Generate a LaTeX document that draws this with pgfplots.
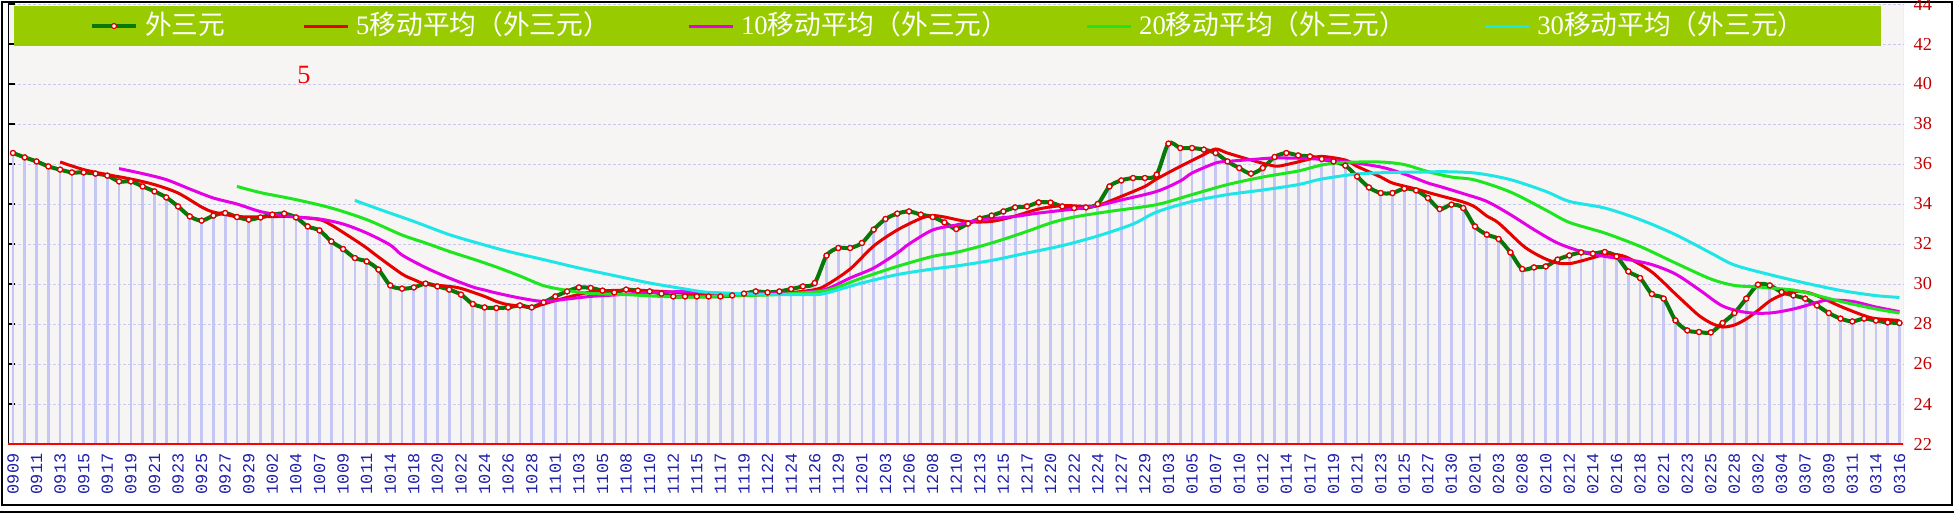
\documentclass[border=0pt]{standalone}
\usepackage{fontspec}
\setmainfont{Liberation Serif}
\newfontfamily\monofont{Liberation Mono}
\newfontfamily\cjk{Noto Sans CJK SC}
\usepackage{pgfplots}
\usepackage{pgfplotstable}
\pgfplotsset{compat=1.18}
\definecolor{paper}{HTML}{F7F5F3}
\definecolor{barblue}{HTML}{C6C6F4}
\definecolor{gridc}{HTML}{C8C8F0}
\definecolor{maingreen}{HTML}{087808}
\definecolor{markred}{HTML}{E00000}
\definecolor{mafive}{HTML}{E60000}
\definecolor{maten}{HTML}{E600E6}
\definecolor{matwenty}{HTML}{1EE61E}
\definecolor{mathirty}{HTML}{1EE6E6}
\definecolor{legendgreen}{HTML}{99CC00}
\definecolor{ylabred}{HTML}{C00000}
\definecolor{xlabblue}{HTML}{2020AA}

% 外三元, one value per day
\pgfplotstableread{
x y
0 36.55
1 36.33
2 36.13
3 35.88
4 35.72
5 35.58
6 35.58
7 35.52
8 35.42
9 35.13
10 35.13
11 34.88
12 34.63
13 34.33
14 33.88
15 33.38
16 33.17
17 33.42
18 33.55
19 33.35
20 33.22
21 33.33
22 33.47
23 33.52
24 33.33
25 32.88
26 32.68
27 32.13
28 31.75
29 31.30
30 31.13
31 30.72
32 29.93
33 29.77
34 29.83
35 30.02
36 29.88
37 29.72
38 29.47
39 29.00
40 28.83
41 28.80
42 28.83
43 28.93
44 28.83
45 29.08
46 29.38
47 29.63
48 29.83
49 29.80
50 29.67
51 29.58
52 29.72
53 29.67
54 29.63
55 29.52
56 29.38
57 29.38
58 29.38
59 29.38
60 29.38
61 29.43
62 29.52
63 29.63
64 29.58
65 29.63
66 29.75
67 29.88
68 30.05
69 31.42
70 31.80
71 31.80
72 32.05
73 32.72
74 33.25
75 33.52
76 33.63
77 33.47
78 33.35
79 33.08
80 32.75
81 33.02
82 33.27
83 33.42
84 33.63
85 33.83
86 33.88
87 34.08
88 34.07
89 33.88
90 33.80
91 33.83
92 34.00
93 34.88
94 35.18
95 35.30
96 35.30
97 35.47
98 37.02
99 36.80
100 36.80
101 36.72
102 36.55
103 36.13
104 35.80
105 35.52
106 35.80
107 36.35
108 36.55
109 36.43
110 36.38
111 36.25
112 36.13
113 35.92
114 35.38
115 34.83
116 34.55
117 34.55
118 34.77
119 34.68
120 34.30
121 33.75
122 33.97
123 33.80
124 32.88
125 32.47
126 32.25
127 31.58
128 30.75
129 30.83
130 30.88
131 31.22
132 31.43
133 31.58
134 31.52
135 31.60
136 31.38
137 30.63
138 30.30
139 29.50
140 29.27
141 28.18
142 27.68
143 27.60
144 27.58
145 28.05
146 28.55
147 29.27
148 29.97
149 29.93
150 29.60
151 29.43
152 29.27
153 28.93
154 28.55
155 28.27
156 28.13
157 28.27
158 28.17
159 28.08
160 28.05
}\mainline

% 5-day average
\pgfplotstableread{
x y
4 36.10
6 35.72
8 35.47
10 35.25
12 34.97
14 34.55
16 33.85
17 33.60
19 33.38
21 33.36
23 33.38
24 33.35
26 33.22
27 32.95
29 32.20
30 31.80
31 31.35
33 30.50
34 30.22
35 30.00
37 29.88
38 29.78
40 29.38
41 29.13
42 28.97
44 28.85
45 29.00
47 29.33
49 29.60
51 29.68
53 29.68
55 29.63
57 29.55
59 29.47
61 29.43
64 29.48
66 29.57
68 29.72
69 29.95
71 30.75
73 31.90
75 32.70
77 33.28
78 33.42
79 33.35
81 33.12
83 33.13
85 33.40
87 33.75
89 33.92
91 33.88
92 33.92
94 34.38
96 34.88
97 35.25
99 35.88
101 36.47
102 36.75
103 36.55
105 36.20
107 35.90
108 35.97
110 36.25
111 36.38
113 36.20
114 35.88
116 35.35
117 35.05
119 34.75
120 34.58
121 34.42
123 34.10
124 33.85
125 33.40
126 33.05
128 31.95
129 31.55
130 31.25
131 31.05
132 31.02
133 31.15
135 31.47
136 31.47
137 31.30
139 30.60
141 29.50
142 28.95
143 28.42
144 28.05
145 27.85
146 27.95
147 28.25
148 28.68
149 29.15
150 29.45
151 29.62
152 29.60
153 29.42
155 28.88
157 28.42
158 28.27
160 28.18
}\mafivetab

% 10-day average
\pgfplotstableread{
x y
9 35.77
11 35.52
13 35.22
15 34.75
17 34.30
19 34.00
21 33.62
23 33.42
24 33.35
26 33.25
28 33.00
30 32.55
32 31.95
33 31.45
35 30.82
37 30.30
39 29.85
40 29.70
41 29.55
43 29.30
45 29.13
47 29.25
49 29.38
51 29.45
54 29.57
57 29.62
59 29.56
62 29.50
65 29.52
67 29.58
69 29.75
71 30.30
73 30.80
75 31.55
76 32.00
78 32.70
80 32.95
82 33.20
85 33.38
87 33.55
90 33.75
92 33.92
94 34.20
97 34.63
99 35.15
100 35.55
102 36.05
103 36.13
105 36.22
107 36.30
110 36.27
113 36.12
116 35.85
118 35.50
120 35.05
121 34.88
123 34.52
125 34.13
127 33.47
129 32.72
131 32.05
133 31.63
135 31.38
137 31.22
139 30.97
141 30.50
143 29.72
145 28.90
147 28.58
149 28.55
151 28.75
153 29.08
154 29.20
156 29.13
158 28.85
160 28.62
}\matentab

% 20-day average
\pgfplotstableread{
x y
19 34.88
21 34.57
24 34.22
27 33.80
30 33.22
33 32.45
35 32.05
37 31.63
39 31.25
41 30.85
43 30.40
45 29.92
47 29.68
49 29.53
52 29.47
55 29.38
58 29.35
61 29.42
64 29.45
66 29.52
69 29.68
72 30.30
75 30.88
78 31.38
80 31.58
83 32.05
86 32.63
88 33.05
90 33.35
93 33.63
97 33.97
100 34.47
103 34.97
106 35.35
109 35.65
111 35.95
113 36.08
116 36.10
118 35.97
120 35.62
122 35.35
124 35.20
127 34.60
130 33.70
132 33.08
135 32.55
138 31.88
141 31.05
144 30.25
146 29.93
148 29.85
151 29.70
152 29.58
155 29.13
158 28.75
160 28.55
}\matwentytab

% 30-day average
\pgfplotstableread{
x y
29 34.18
31 33.75
34 33.13
37 32.47
40 31.95
42 31.63
45 31.22
48 30.80
51 30.42
54 30.05
57 29.75
59 29.58
62 29.52
65 29.47
68 29.47
69 29.55
72 30.05
75 30.47
78 30.75
80 30.90
83 31.18
86 31.55
89 31.92
92 32.40
95 33.00
97 33.60
100 34.13
103 34.47
106 34.70
109 34.97
111 35.25
114 35.50
117 35.58
120 35.60
121 35.62
124 35.55
127 35.22
130 34.63
132 34.13
135 33.80
138 33.22
141 32.47
144 31.55
146 30.95
149 30.47
152 30.05
155 29.68
158 29.42
160 29.33
}\mathirtytab

\begin{document}
\begin{tikzpicture}
\useasboundingbox (0,0) rectangle (195.4mm,51.3mm);
\fill[white] (0,0) rectangle (195.4mm,51.3mm);
\draw[black,line width=0.2mm] (0.2mm,0.8mm) rectangle (195.2mm,51.1mm);
\draw[black,line width=0.15mm] (0,0.1mm) -- (195.4mm,0.1mm);
\begin{axis}[
    at={(0.8mm,6.9mm)}, anchor=south west,
    scale only axis,
    width=189.5mm, height=44mm,
    xmin=-0.42, xmax=160.3,
    ymin=22, ymax=44,
    axis line style={draw=none},
    axis background/.style={fill=paper},
    xtick={0,2,...,160},
    xticklabels={0909,0911,0913,0915,0917,0919,0921,0923,0925,0927,
        0929,1002,1004,1007,1009,1011,1014,1018,1020,1022,
        1024,1026,1028,1101,1103,1105,1108,1110,1112,1115,
        1117,1119,1122,1124,1126,1129,1201,1203,1206,1208,
        1210,1213,1215,1217,1220,1222,1224,1227,1229,0103,
        0105,0107,0110,0112,0114,0117,0119,0121,0123,0125,
        0127,0130,0201,0203,0208,0210,0212,0214,0216,0218,
        0221,0223,0225,0228,0302,0304,0307,0309,0311,0314,
        0316},
    ytick={22,24,...,44},
    xtick pos=left,
    ytick pos=left,
    yticklabel pos=right,
    tick align=inside,
    major tick length=0.65mm,
    xtick style={draw=red,line width=0.15mm},
    ytick style={draw=black,line width=0.15mm},
    xticklabel style={rotate=90,anchor=east,inner sep=0pt,text=xlabblue,
        font=\monofont\fontsize{4.8}{5}\selectfont},
    xticklabel shift=0.9mm,
    yticklabel style={anchor=west,inner sep=0pt,text=ylabred,
        font=\fontsize{5.2}{6}\selectfont},
    yticklabel shift=1mm,
    /pgf/number format/assume math mode=true,
    ymajorgrids,
    major grid style={dash pattern=on 0.3mm off 0.2mm,draw=gridc,line width=0.1mm},
    legend columns=5,
    legend cell align=left,
    legend style={at={(0.4975,0.95)},anchor=center,draw=none,fill=none,
        text=white,font=\fontsize{7.6}{8}\selectfont,inner sep=0pt,
        /tikz/every even column/.append style={column sep=7.0mm}},
    legend image code/.code={\draw[mark repeat=2,mark phase=2,#1]
        plot coordinates {(0mm,0mm) (2.2mm,0mm) (4.4mm,0mm)};},
]
\addplot[ycomb,draw=barblue,line width=0.27mm,forget plot] table {\mainline};
\addplot[maingreen,line width=0.4mm,smooth,tension=0.5,
    mark=*,mark size=0.25mm,
    mark options={fill=white,draw=markred,line width=0.12mm}] table {\mainline};
\addlegendentry{{\cjk 外三元}}
\addplot[mafive,line width=0.3mm,smooth,tension=0.5] table {\mafivetab};
\addlegendentry{5{\cjk 移动平均（外三元）}}
\addplot[maten,line width=0.3mm,smooth,tension=0.5] table {\matentab};
\addlegendentry{10{\cjk 移动平均（外三元）}}
\addplot[matwenty,line width=0.3mm,smooth,tension=0.5] table {\matwentytab};
\addlegendentry{20{\cjk 移动平均（外三元）}}
\addplot[mathirty,line width=0.3mm,smooth,tension=0.5] table {\mathirtytab};
\addlegendentry{30{\cjk 移动平均（外三元）}}
\addplot[only marks,mark=*,mark size=0.25mm,
    mark options={fill=white,draw=markred,line width=0.12mm},forget plot] table {\mainline};
\fill[legendgreen] (rel axis cs:0.0032,0.9045) rectangle (rel axis cs:0.9884,0.9955);
\draw[black,line width=0.15mm] (rel axis cs:0,0) -- (rel axis cs:0,1);
\draw[gray,line width=0.1mm] (rel axis cs:1,0) -- (rel axis cs:1,1);
\draw[red,line width=0.18mm] (rel axis cs:0,0) -- (rel axis cs:1,0);
\end{axis}
\node[text=red,font=\fontsize{7.5}{8}\selectfont] at (30.4mm,43.8mm) {5};
\end{tikzpicture}
\end{document}
